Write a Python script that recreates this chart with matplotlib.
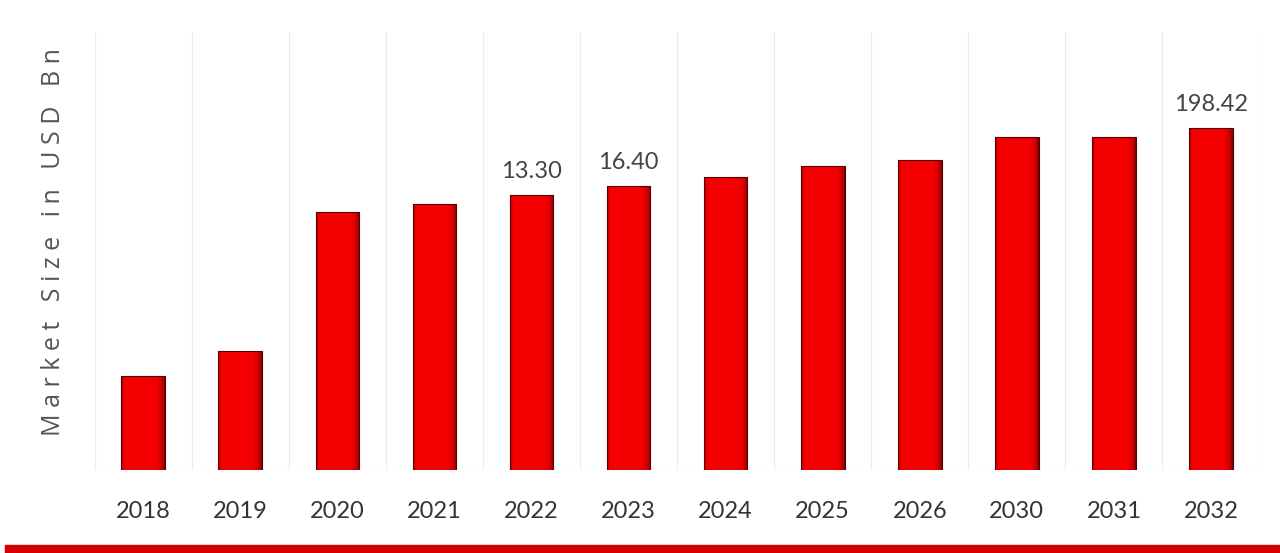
import numpy as np
import matplotlib
matplotlib.use("Agg")
import matplotlib.pyplot as plt
from matplotlib.colors import LinearSegmentedColormap

# data (bar heights in pixel-like units, labels as printed)
years = ['2018', '2019', '2020', '2021', '2022', '2023', '2024', '2025', '2026', '2030', '2031', '2032']
heights = [94, 119, 258, 266, 275, 284, 293, 304, 310, 333, 333, 342]
value_labels = {'2022': '13.30', '2023': '16.40', '2032': '198.42'}

plt.rcParams['font.family'] = ['Lato', 'DejaVu Sans']

fig = plt.figure(figsize=(12.8, 5.53), dpi=100)
ax = fig.add_axes([0.074, 0.150, 0.910, 0.792])

x = np.arange(len(years))
bar_w = 0.45

# horizontal shading: slightly dark left edge, bright body, darker right edge
u = np.linspace(0, 1, 200)
shade = np.clip(np.minimum(u / 0.08, (1 - u) / 0.22), 0, 1) ** 0.7
cmap = LinearSegmentedColormap.from_list('bar', ['#6e0000', '#d00000', '#f50000'])
img = shade.reshape(1, -1)

bars = ax.bar(x, heights, width=bar_w, color='none', edgecolor='#5a0000', linewidth=0.8, zorder=3)
for b in bars:
    x0, y0 = b.get_x(), b.get_y()
    w, h = b.get_width(), b.get_height()
    im = ax.imshow(img, cmap=cmap, vmin=0, vmax=1, aspect='auto', interpolation='bilinear',
                   extent=[x0, x0 + w, y0, y0 + h], zorder=2)
    im.set_clip_path(b)

for xi, yr, h in zip(x, years, heights):
    if yr in value_labels:
        ax.text(xi, h + 13, value_labels[yr], ha='center', va='bottom',
                fontsize=17, color='#444444')

ax.set_xlim(-0.5, len(years) - 0.5)
ax.set_ylim(0, 438)
ax.set_xticks(x)
ax.set_xticklabels(years, fontsize=17, color='#333333')
ax.tick_params(axis='x', length=0, pad=22)
ax.set_yticks([])

# faint separators between categories
for b in np.arange(-0.5, len(years), 1.0):
    ax.axvline(b, color='#ececec', linewidth=0.8, zorder=1)
ax.axhline(0, color='#e4e4e4', linewidth=0.8, zorder=1)

for s in ax.spines.values():
    s.set_visible(False)

ax.set_ylabel(' '.join('Market Size in USD Bn'), family=['Open Sans', 'DejaVu Sans'],
              fontsize=18, color='#555555')
ax.yaxis.set_label_coords(-0.025, 0.52)

# red band along the bottom
fig.add_artist(plt.Rectangle((0.004, 0.0), 0.996, 0.015, transform=fig.transFigure,
                             color='#d40000', zorder=0))

fig.savefig('out.png', dpi=100)
